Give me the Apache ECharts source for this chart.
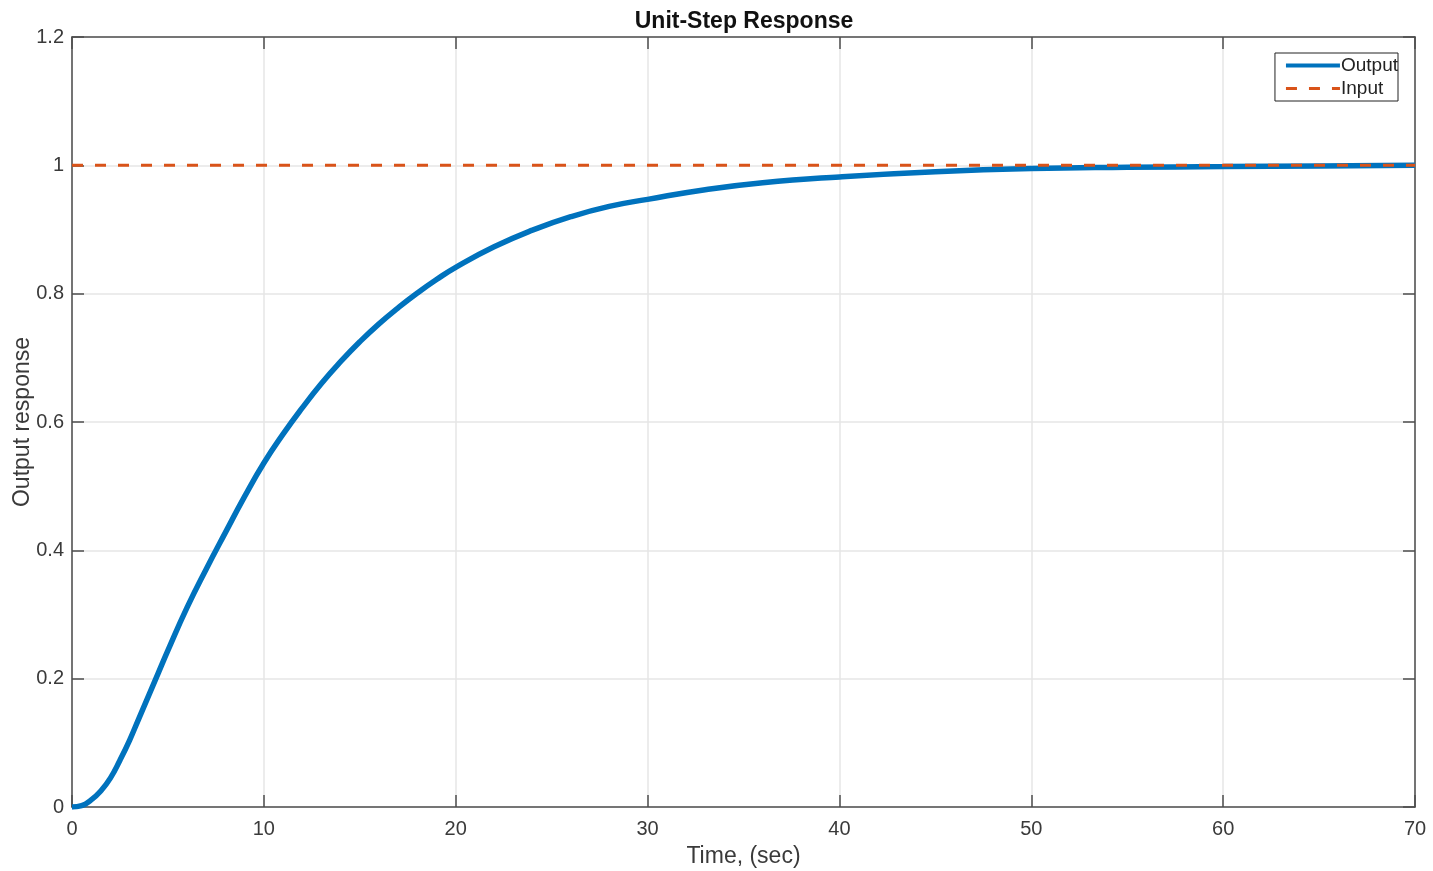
<!DOCTYPE html>
<html>
<head>
<meta charset="utf-8">
<title>Unit-Step Response</title>
<script src="https://cdn.jsdelivr.net/npm/echarts@6/dist/echarts.min.js"></script>
<style>
  html, body { margin: 0; padding: 0; background: #ffffff; }
  #chart { width: 1433px; height: 871px; }
</style>
</head>
<body>
<div id="chart"></div>
<script>
// Sample times (sec) and the measured output of the system
const timeSec = [0, 0.5, 1, 1.5, 2, 2.5, 3, 3.5, 4, 4.5, 5, 6, 7, 8, 9, 10, 11, 12, 13, 14, 15, 16, 17, 18, 19, 20,
                 22, 24, 26, 28, 30, 33, 36, 40, 45, 50, 55, 60, 65, 70];
const outputResponse = [0, 0.002, 0.011, 0.025, 0.045, 0.073, 0.104, 0.139, 0.174, 0.209, 0.244, 0.311, 0.371,
                        0.428, 0.484, 0.536, 0.581, 0.622, 0.660, 0.694, 0.725, 0.753, 0.778, 0.801, 0.822, 0.841,
                        0.873, 0.899, 0.920, 0.936, 0.947, 0.962, 0.973, 0.982, 0.990, 0.995, 0.997, 0.998, 0.999, 1.0];
// Unit step input
const inputTime = [0, 70];
const inputLevel = [1, 1];

const xTicks = { min: 0, max: 70, interval: 10 };
const yTicks = { min: 0, max: 1.2, interval: 0.2 };

const outputData = timeSec.map((t, i) => [t, outputResponse[i]]);
const inputData = inputTime.map((t, i) => [t, inputLevel[i]]);

const axisColor = '#4d4d4d';
const textColor = '#3a3a3a';
const fontFamily = '"Liberation Sans", Arial, Helvetica, sans-serif';

const tickStyle = { show: true, inside: true, length: 12, lineStyle: { color: axisColor, width: 1.5 } };
const lineStyleAxis = { show: true, onZero: false, lineStyle: { color: axisColor, width: 1.5 } };

const chart = echarts.init(document.getElementById('chart'), null, { renderer: 'canvas' });

chart.setOption({
  backgroundColor: '#ffffff',
  animation: false,
  textStyle: { fontFamily: fontFamily },
  title: {
    text: 'Unit-Step Response',
    left: 739,
    top: 5,
    textAlign: 'center',
    textStyle: { fontSize: 23, fontWeight: 'bold', color: '#111', fontFamily: fontFamily }
  },
  grid: { left: 72, right: 18, top: 37, bottom: 64, containLabel: false, outerBoundsMode: 'none' },
  legend: {
    right: 35,
    top: 53,
    orient: 'vertical',
    itemWidth: 54,
    itemHeight: 14,
    itemGap: 4,
    padding: [3, 0, 3, 9],
    backgroundColor: '#ffffff',
    borderColor: '#222',
    borderWidth: 1,
    itemStyle: { opacity: 0 },
    textStyle: { fontSize: 19, color: '#222', fontFamily: fontFamily, padding: [0, 0, 0, -4] },
    data: [
      { name: 'Output', lineStyle: { width: 4 } },
      { name: 'Input', lineStyle: { width: 3 } }
    ]
  },
  xAxis: [
    {
      type: 'value',
      min: xTicks.min, max: xTicks.max, interval: xTicks.interval,
      name: 'Time, (sec)',
      nameLocation: 'middle',
      nameGap: 38,
      nameTextStyle: { fontSize: 23, color: textColor },
      axisLine: lineStyleAxis,
      axisTick: tickStyle,
      axisLabel: { fontSize: 20, color: textColor, margin: 12 },
      splitLine: { show: true, lineStyle: { color: '#e6e6e6', width: 1.5 } }
    },
    {
      type: 'value',
      position: 'top',
      min: xTicks.min, max: xTicks.max, interval: xTicks.interval,
      axisLine: lineStyleAxis,
      axisTick: tickStyle,
      axisLabel: { show: false },
      splitLine: { show: false }
    }
  ],
  yAxis: [
    {
      type: 'value',
      min: yTicks.min, max: yTicks.max, interval: yTicks.interval,
      name: 'Output response',
      nameLocation: 'middle',
      nameGap: 38,
      nameMoveOverlap: false,
      nameRotate: 90,
      nameTextStyle: { fontSize: 23, color: textColor },
      axisLine: lineStyleAxis,
      axisTick: tickStyle,
      axisLabel: { fontSize: 20, color: textColor, margin: 8 },
      splitLine: { show: true, lineStyle: { color: '#e6e6e6', width: 1.5 } }
    },
    {
      type: 'value',
      position: 'right',
      min: yTicks.min, max: yTicks.max, interval: yTicks.interval,
      axisLine: lineStyleAxis,
      axisTick: tickStyle,
      axisLabel: { show: false },
      splitLine: { show: false }
    }
  ],
  series: [
    {
      name: 'Output',
      type: 'line',
      xAxisIndex: 0,
      yAxisIndex: 0,
      data: outputData,
      smooth: 0.5,
      symbol: 'none',
      color: '#0072BD',
      lineStyle: { color: '#0072BD', width: 5.5 }
    },
    {
      name: 'Input',
      type: 'line',
      xAxisIndex: 0,
      yAxisIndex: 0,
      data: inputData,
      symbol: 'none',
      color: '#D95319',
      lineStyle: { color: '#D95319', width: 3, type: [11, 12] }
    }
  ]
});
</script>
</body>
</html>
